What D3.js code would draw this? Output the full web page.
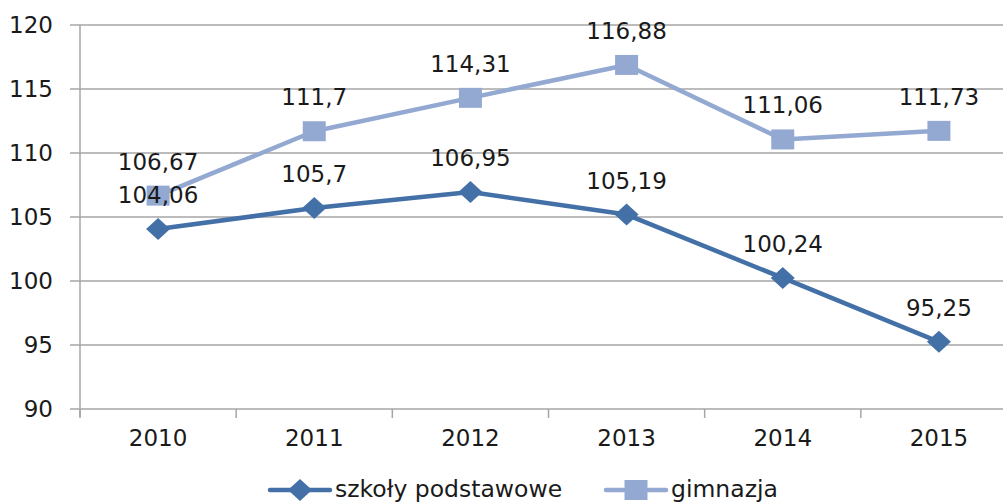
<!DOCTYPE html>
<html><head><meta charset="utf-8">
<script src="https://cdn.jsdelivr.net/npm/d3@7"></script>
<style>body{margin:0;background:#fff}svg{display:block}text{font-family:"DejaVu Sans",sans-serif;fill:#1a1a1a}</style>
</head><body><svg id="c" width="1003" height="504"></svg>
<script>
const years = ["2010","2011","2012","2013","2014","2015"];
const szkoly = [104.06,105.7,106.95,105.19,100.24,95.25];
const gimnazja = [106.67,111.7,114.31,116.88,111.06,111.73];
const yTicks = [90,95,100,105,110,115,120];
const seriesNames = ["szkoły podstawowe","gimnazja"];
const colors = ["#4470A8","#93A9D2"];

const svg = d3.select("#c");
const x = d3.scaleBand().domain(years).range([80,1017]);
const y = d3.scaleLinear().domain([90,120]).range([409,25]);

// gridlines
svg.append("g").selectAll("line").data(yTicks).join("line")
  .attr("x1",70).attr("x2",1003).attr("y1",d=>y(d)).attr("y2",d=>y(d))
  .attr("stroke","#A6A6A6").attr("stroke-width",1.5);

// y axis
const ya = svg.append("g").attr("transform","translate(80,0)")
  .call(d3.axisLeft(y).tickValues(yTicks).tickSize(10).tickPadding(17).tickFormat(d3.format("d")));
ya.select(".domain").attr("stroke","#A6A6A6").attr("stroke-width",1.5).attr("d","M0,25V417");
ya.selectAll(".tick line").attr("stroke","none");
ya.selectAll("text").style("font-size","23px").attr("fill","#1a1a1a").attr("font-family","DejaVu Sans");

// x axis
const xa = svg.append("g").attr("transform","translate(0,409)")
  .call(d3.axisBottom(x).tickSize(0).tickPadding(21));
xa.select(".domain").remove();
xa.selectAll("text").style("font-size","23px").attr("fill","#1a1a1a").attr("font-family","DejaVu Sans");
const bounds = years.map(d=>x(d)).concat([x.range()[1]]);
svg.append("g").selectAll("line").data(bounds).join("line")
  .attr("x1",d=>d).attr("x2",d=>d).attr("y1",409).attr("y2",418)
  .attr("stroke","#A6A6A6").attr("stroke-width",1.5);

const cx = d=>x(d)+x.bandwidth()/2;
const diamond = "M0,-11L12,0L0,11L-12,0Z";
const square = "M-11.5,-10H11.5V10H-11.5Z";
const data = [szkoly,gimnazja];
const shapes = [diamond,square];

data.forEach((vals,i)=>{
  const pts = years.map((yr,j)=>[cx(yr),y(vals[j])]);
  svg.append("path").attr("d",d3.line()(pts)).attr("fill","none")
    .attr("stroke",colors[i]).attr("stroke-width",4.5).attr("stroke-linejoin","round");
  svg.append("g").selectAll("path").data(pts).join("path")
    .attr("d",shapes[i]).attr("transform",p=>`translate(${p[0]},${p[1]})`).attr("fill",colors[i]);
});
data.forEach((vals,i)=>{
  svg.append("g").selectAll("text").data(years).join("text")
    .attr("x",yr=>cx(yr)).attr("y",(yr,j)=>y(vals[j])-26)
    .attr("text-anchor","middle").style("font-size","23px")
    .text((yr,j)=>String(vals[j]).replace(".",","));
});

// legend
const lg = [[270,seriesNames[0]],[606,seriesNames[1]]];
lg.forEach(([lx,name],i)=>{
  const g = svg.append("g");
  g.append("line").attr("x1",lx).attr("x2",lx+60).attr("y1",490).attr("y2",490)
    .attr("stroke",colors[i]).attr("stroke-width",4.5).attr("stroke-linecap","round");
  g.append("path").attr("d",shapes[i]).attr("transform",`translate(${lx+30},490)`).attr("fill",colors[i]);
  g.append("text").attr("x",lx+65).attr("y",497).style("font-size","23.5px").text(name);
});
</script></body></html>
